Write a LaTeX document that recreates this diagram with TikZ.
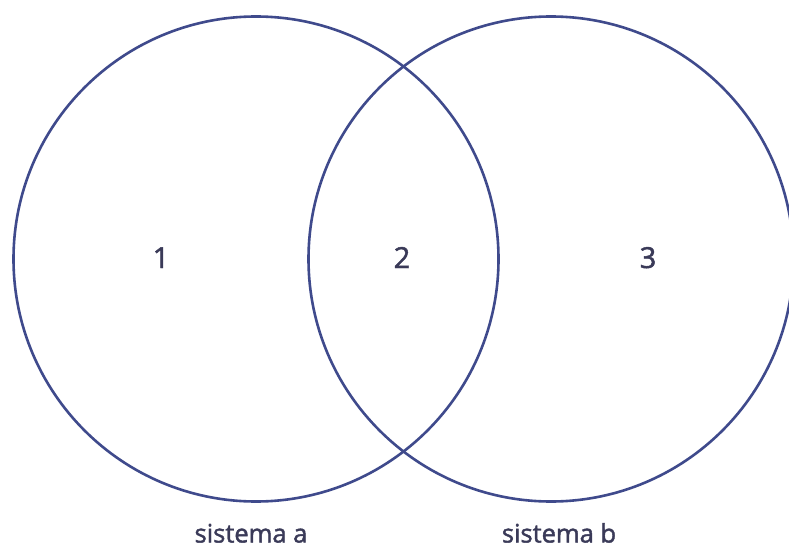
\documentclass[tikz,border=0pt]{standalone}
\usepackage{fontspec}
\setmainfont{Open Sans}
\newfontfamily\labelfont{Open Sans}[FakeBold=1.6]
\definecolor{ringcol}{HTML}{3F4A8C}
\definecolor{txtcol}{HTML}{3A3A58}
\begin{document}
\begin{tikzpicture}[x=1pt,y=-1pt,
  ring/.style={draw=ringcol, line width=2.6pt, circle, minimum size=485pt, inner sep=0pt},
  digit/.style={text=txtcol, font=\labelfont\fontsize{29}{31}\selectfont, anchor=base, inner sep=0pt},
  setlabel/.style={text=txtcol, font=\labelfont\fontsize{25.5}{27}\selectfont, anchor=base, inner sep=0pt}]
\useasboundingbox (0,0) rectangle (789,548);
\begin{scope}
\clip (0,0) rectangle (789,548);
\fill[white] (0,0) rectangle (789,548);
\node[ring] (A) at (256,259) {};
\node[ring] (B) at (551,259) {};
\end{scope}
\node[digit] (n1) at (161,268) {1};
\node[digit] (n2) at (402,268) {2};
\node[digit] (n3) at (648,268) {3};
\node[setlabel] (la) at (251,542.5) {sistema a};
\node[setlabel] (lb) at (559,542.5) {sistema b};
\end{tikzpicture}
\end{document}
